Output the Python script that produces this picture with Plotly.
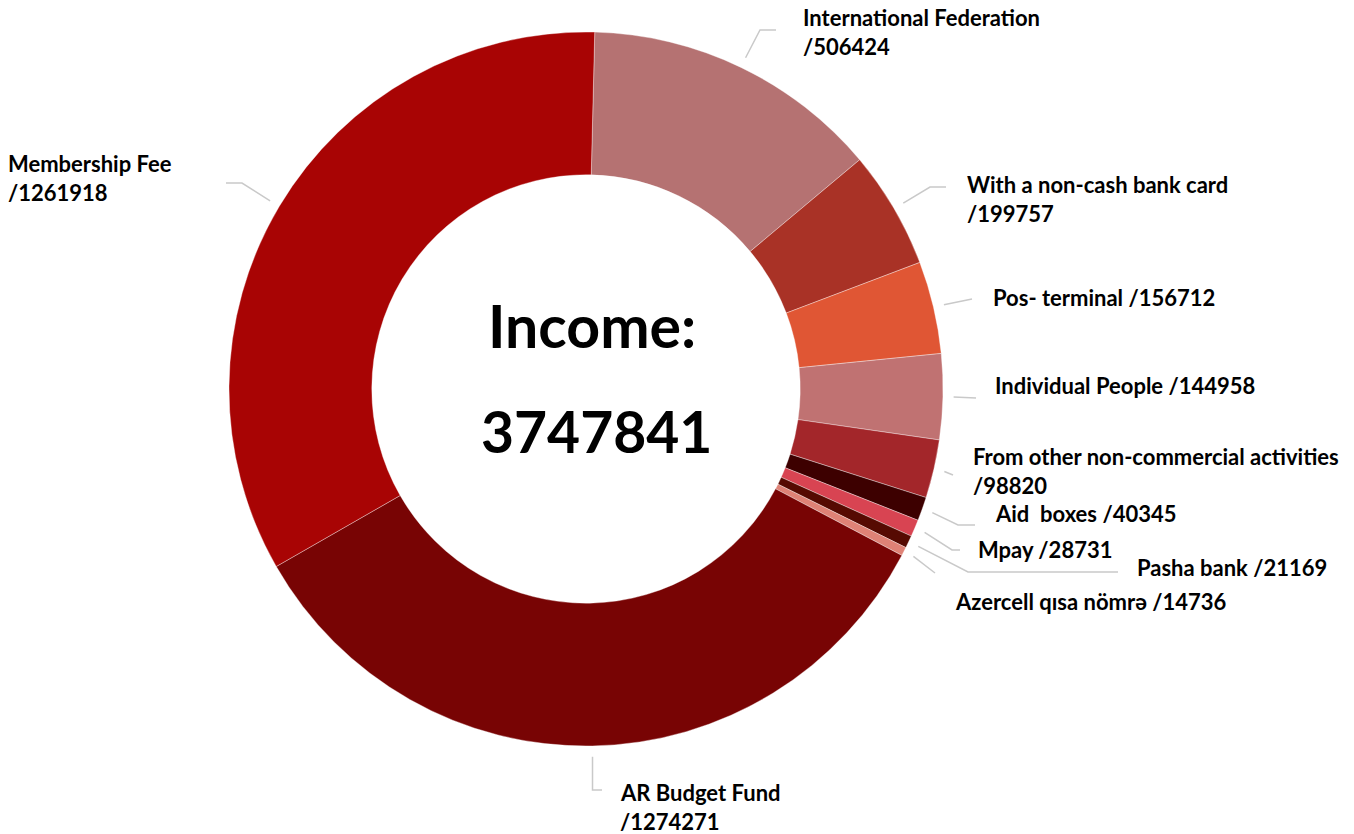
import math
import plotly.graph_objects as go

# ---- data ----
labels = [
    "International Federation",
    "With a non-cash bank card",
    "Pos- terminal",
    "Individual People",
    "From other non-commercial activities",
    "Aid\u00a0 boxes",
    "Mpay",
    "Pasha bank",
    "Azercell qısa nömrə",
    "AR Budget Fund",
    "Membership Fee",
]
values = [506424, 199757, 156712, 144958, 98820, 40345, 28731, 21169, 14736, 1274271, 1261918]
colors = ["#b57272", "#a93226", "#e05634", "#c07272", "#a3262a", "#3d0000",
          "#d84452", "#560a02", "#df8276", "#780404", "#a80404"]
center_title = "Income:"

# ---- layout constants (pixels) ----
W, H = 1354, 834
CX, CY, R = 586, 389, 357
ROT = 1.4
FONT = "Lato"
LABEL_SIZE = 22

# label placement: (x, [line-centre y's], two-line?, elbow points, end point)
label_layout = [
    (801, [17, 46], True,  [(760, 30)], (776, 30)),
    (965, [184, 213], True, [(930, 187)], (946, 187)),
    (991, [297], False, [], (972, 299)),
    (993, [385], False, [], (976, 398)),
    (971, [456, 485], True, [], (953, 475)),
    (993, [513], False, [(958, 525)], (975, 525)),
    (976, [549], False, [(952, 550)], (960, 550)),
    (1135, [567], False, [(968, 572)], (1118, 572)),
    (953, [601], False, [], (935, 573)),
    (618, [792, 821], True, [(None, 790)], (602, 790)),
    (6, [163, 192], True, [(242, 183)], (226, 183)),
]

total = sum(values)

fig = go.Figure()

# leader lines (start point from the slice's mid-angle)
cum = 0
for v, (lx, ys, two, elbows, end) in zip(values, label_layout):
    mid = (cum + v / 2) / total
    cum += v
    ang = math.radians(mid * 360 + ROT)
    sx = CX + 1.03 * R * math.sin(ang)
    sy = CY - 1.03 * R * math.cos(ang)
    xs = [sx] + [(sx if e[0] is None else e[0]) for e in elbows] + [end[0]]
    yy = [sy] + [e[1] for e in elbows] + [end[1]]
    fig.add_trace(go.Scatter(x=xs, y=yy, mode="lines",
                             line=dict(color="#c9c9c9", width=1.5),
                             hoverinfo="skip", showlegend=False))

fig.add_trace(go.Pie(
    labels=labels, values=values, hole=0.6, sort=False,
    direction="clockwise", rotation=ROT,
    marker=dict(colors=colors, line=dict(color="rgba(255,255,255,0.6)", width=0.6)),
    textinfo="none", showlegend=False,
    domain=dict(x=[(CX - R) / W, (CX + R) / W],
                y=[1 - (CY + R) / H, 1 - (CY - R) / H]),
))

annotations = []
for lab, v, (lx, ys, two, elbows, end) in zip(labels, values, label_layout):
    if two:
        lines = [lab, "/" + str(v)]
    else:
        lines = [lab + " /" + str(v)]
    for t, y in zip(lines, ys):
        annotations.append(dict(x=lx, y=y, xref="x", yref="y", text=t,
                                showarrow=False, xanchor="left", yanchor="middle",
                                font=dict(family=FONT, size=LABEL_SIZE, color="#000000",
                                          weight="bold")))

annotations.append(dict(x=592, y=325, xref="x", yref="y", text=center_title,
                        showarrow=False, xanchor="center", yanchor="middle",
                        font=dict(family=FONT, size=59, color="#000000", weight="bold")))
annotations.append(dict(x=596, y=431, xref="x", yref="y", text=str(total),
                        showarrow=False, xanchor="center", yanchor="middle",
                        font=dict(family=FONT, size=57, color="#000000", weight="bold")))

fig.update_layout(
    width=W, height=H,
    margin=dict(l=0, r=0, t=0, b=0),
    paper_bgcolor="white", plot_bgcolor="white",
    xaxis=dict(range=[0, W], visible=False, fixedrange=True, domain=[0, 1]),
    yaxis=dict(range=[H, 0], visible=False, fixedrange=True, domain=[0, 1]),
    annotations=annotations,
    font=dict(family=FONT),
)
fig.write_html("out.html",
               config={"displayModeBar": False},
               post_script="document.body.style.margin='0';document.body.style.overflow='hidden';")
